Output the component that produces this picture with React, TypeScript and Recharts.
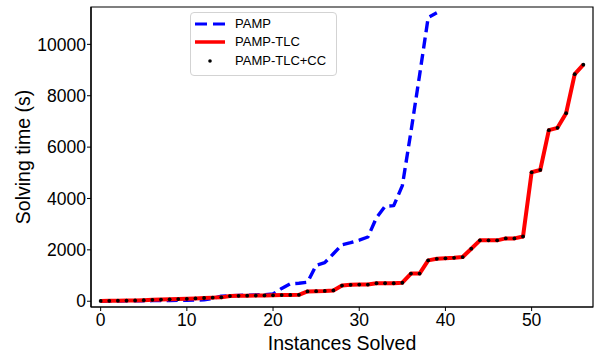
import React from 'react';
import { LineChart, Line, XAxis, YAxis, Legend, ReferenceArea } from 'recharts';

const instances = [
  0, 1, 2, 3, 4, 5, 6, 7, 8, 9, 10, 11, 12, 13, 14, 15, 16, 17, 18, 19,
  20, 21, 22, 23, 24, 25, 26, 27, 28, 29, 30, 31, 32, 33, 34, 35, 36, 37, 38, 39,
  40, 41, 42, 43, 44, 45, 46, 47, 48, 49, 50, 51, 52, 53, 54, 55, 56,
];

const pampTimes = [
  5, 8, 10, 12, 15, 18, 22, 26, 30, 35,
  40, 45, 55, 100, 200, 215, 225, 235, 245, 255,
  280, 500, 680, 700, 740, 1400, 1500, 1850, 2200, 2280,
  2380, 2500, 3250, 3700, 3720, 4500, 6600, 8800, 11050, 11230,
];

const tlcTimes = [
  10, 15, 20, 25, 30, 40, 55, 65, 75, 85,
  95, 110, 125, 140, 150, 200, 210, 215, 220, 225,
  230, 240, 245, 250, 380, 390, 400, 420, 610, 640,
  650, 650, 700, 700, 700, 720, 1075, 1075, 1590, 1650,
  1670, 1690, 1720, 2045, 2370, 2370, 2370, 2445, 2445, 2520,
  5020, 5110, 6660, 6750, 7320, 8840, 9210,
];

const tlcCcTimes = [
  10, 15, 20, 25, 30, 40, 55, 65, 75, 85,
  95, 110, 125, 140, 150, 200, 210, 215, 220, 225,
  230, 240, 245, 250, 380, 390, 400, 420, 610, 640,
  650, 650, 700, 700, 700, 720, 1075, 1075, 1590, 1650,
  1670, 1690, 1720, 2045, 2370, 2370, 2370, 2445, 2445, 2520,
  5020, 5110, 6660, 6750, 7320, 8840, 9210,
];

const xTicks = [0, 10, 20, 30, 40, 50];
const yTicks = [0, 2000, 4000, 6000, 8000, 10000];
const xDomain = [-1.12, 57.12];
const yDomain = [-225, 11455];
const seriesNames = ['PAMP', 'PAMP-TLC', 'PAMP-TLC+CC'];

const data = instances.map((x, i) => ({
  x,
  pamp: pampTimes[i],
  tlc: tlcTimes[i],
  cc: tlcCcTimes[i],
}));

const FONT = '"Liberation Sans", Arial, Helvetica, sans-serif';

const LegendBox = () => (
  <div
    style={{
      width: 147,
      height: 64,
      boxSizing: 'border-box',
      border: '1px solid #d3d3d3',
      borderRadius: 4,
      background: 'rgba(255,255,255,0.85)',
      fontFamily: FONT,
      fontSize: 13,
      color: '#000',
      paddingTop: 2,
    }}
  >
    {seriesNames.map((name, i) => (
      <div key={name} style={{ display: 'flex', alignItems: 'center', height: 18.33 }}>
        <svg width={30} height={10} style={{ marginLeft: 4, display: 'block' }}>
          {i === 0 && (
            <line x1={0} y1={5} x2={30} y2={5} stroke="#0000ff" strokeWidth={3} strokeDasharray="12 6" />
          )}
          {i === 1 && <line x1={0} y1={5} x2={30} y2={5} stroke="#ff0000" strokeWidth={3.5} />}
          {i === 2 && <circle cx={15} cy={5} r={1.8} fill="#000" />}
        </svg>
        <span style={{ marginLeft: 10, lineHeight: '18px' }}>{name}</span>
      </div>
    ))}
  </div>
);

export default function App() {
  return (
    <div style={{ position: 'absolute', left: 0, top: 0, width: 598, height: 354, background: '#fff' }}>
      <LineChart width={598} height={354} data={data} margin={{ top: 7, right: 5, bottom: 0, left: 0 }}>
        <XAxis
          dataKey="x"
          type="number"
          domain={xDomain}
          allowDataOverflow
          ticks={xTicks}
          height={47}
          tickSize={4}
          tickMargin={3}
          axisLine={{ stroke: '#000', strokeWidth: 1.2 }}
          tickLine={{ stroke: '#000', strokeWidth: 1 }}
          tick={{ fill: '#000', fontSize: 17.5, fontFamily: FONT }}
          label={{
            value: 'Instances Solved',
            position: 'insideBottom',
            offset: 4,
            style: { fill: '#000', fontSize: 19.5, fontFamily: FONT, textAnchor: 'middle' },
          }}
        />
        <YAxis
          type="number"
          domain={yDomain}
          allowDataOverflow
          ticks={yTicks}
          width={91}
          tickSize={4}
          tickMargin={1}
          axisLine={{ stroke: '#000', strokeWidth: 1.2 }}
          tickLine={{ stroke: '#000', strokeWidth: 1 }}
          tick={{ fill: '#000', fontSize: 17.5, fontFamily: FONT }}
          label={{
            value: 'Solving time (s)',
            angle: -90,
            position: 'insideLeft',
            offset: 23,
            style: { fill: '#000', fontSize: 19.5, fontFamily: FONT, textAnchor: 'middle' },
          }}
        />
        <ReferenceArea
          x1={xDomain[0]}
          x2={xDomain[1]}
          y1={yDomain[0]}
          y2={yDomain[1]}
          fill="none"
          fillOpacity={0}
          stroke="#000"
          strokeWidth={1.2}
          ifOverflow="visible"
        />
        <Legend
          layout="horizontal"
          verticalAlign="middle"
          align="center"
          content={() => <LegendBox />}
          wrapperStyle={{ left: 190, top: 12, width: 147, height: 64 }}
        />
        <Line
          dataKey="pamp"
          name={seriesNames[0]}
          stroke="#0000ff"
          strokeWidth={3.4}
          strokeDasharray="11 5.5"
          dot={false}
          activeDot={false}
          isAnimationActive={false}
          strokeLinejoin="round"
        />
        <Line
          dataKey="tlc"
          name={seriesNames[1]}
          stroke="#ff0000"
          strokeWidth={4}
          dot={false}
          activeDot={false}
          isAnimationActive={false}
          strokeLinejoin="round"
        />
        <Line
          dataKey="cc"
          name={seriesNames[2]}
          stroke="none"
          dot={{ r: 1.9, fill: '#000', stroke: 'none' }}
          activeDot={false}
          isAnimationActive={false}
        />
      </LineChart>
    </div>
  );
}
